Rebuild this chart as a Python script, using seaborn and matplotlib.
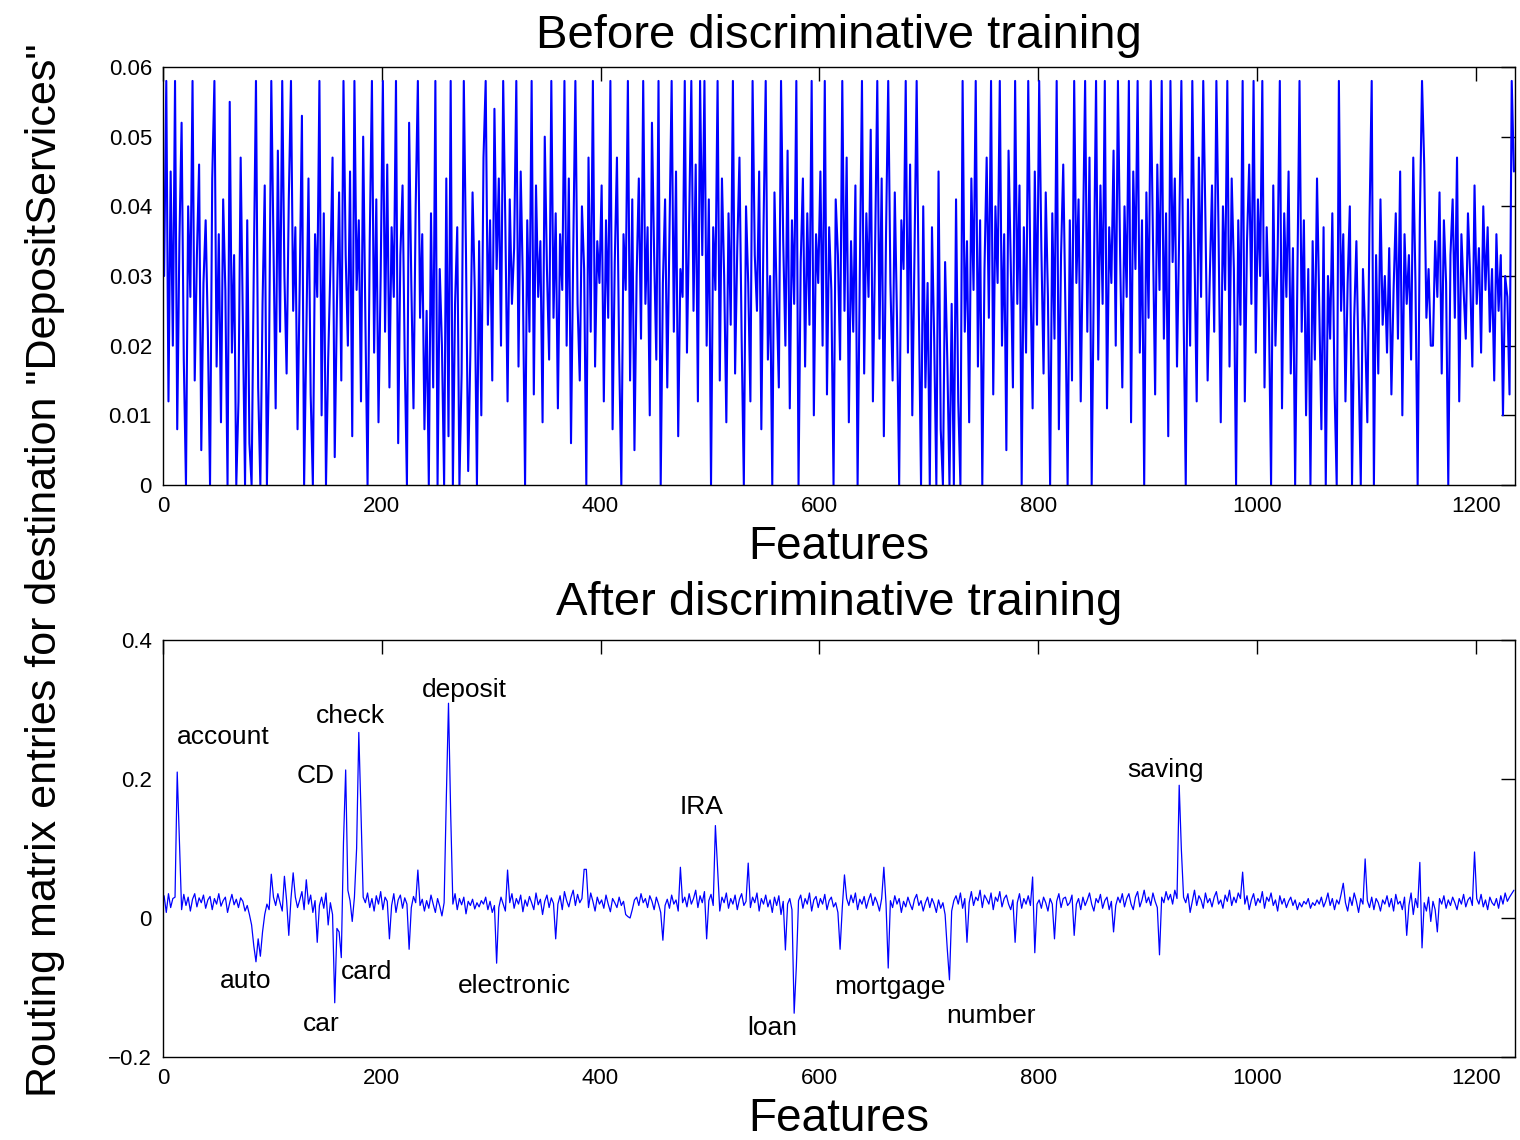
import numpy as np
import pandas as pd
import matplotlib
matplotlib.use("Agg")
import matplotlib.pyplot as plt
from matplotlib import font_manager
import seaborn as sns

# ---------------- data (values in units of 0.001) ----------------
before_vals = [
    30, 58, 12, 45, 20, 58, 8, 35, 52, 18, 0, 40, 27, 58, 15, 33, 46, 5, 29, 38,
    22, 0, 44, 58, 17, 36, 9, 41, 28, 0, 55, 19, 33, 0, 12, 47, 24, 0, 38, 6,
    0, 31, 58, 14, 0, 26, 43, 0, 19, 58, 35, 11, 48, 22, 58, 30, 16, 41, 58, 25,
    37, 8, 29, 53, 0, 21, 44, 13, 0, 36, 27, 58, 10, 39, 0, 18, 31, 47, 4, 26,
    42, 15, 58, 33, 20, 45, 7, 58, 28, 38, 12, 50, 24, 0, 35, 58, 19, 41, 9, 30,
    58, 22, 46, 14, 37, 27, 58, 6, 33, 43, 18, 0, 52, 29, 11, 40, 58, 24, 36, 8,
    25, 0, 39, 14, 58, 0, 31, 20, 0, 44, 7, 58, 0, 26, 37, 0, 16, 58, 33, 2,
    19, 42, 28, 0, 35, 10, 47, 58, 23, 38, 15, 54, 31, 44, 20, 58, 37, 12, 41, 26,
    34, 58, 17, 45, 29, 0, 38, 22, 58, 13, 43, 27, 35, 9, 50, 31, 18, 58, 24, 39,
    11, 36, 28, 58, 20, 44, 6, 33, 58, 26, 15, 40, 31, 0, 47, 22, 58, 17, 35, 29,
    43, 12, 38, 24, 58, 8, 32, 47, 19, 0, 36, 28, 58, 15, 41, 5, 30, 44, 21, 58,
    26, 37, 10, 52, 33, 18, 58, 0, 29, 41, 14, 36, 58, 22, 45, 7, 31, 27, 58, 19,
    38, 58, 25, 46, 12, 58, 33, 58, 20, 41, 0, 37, 28, 58, 15, 44, 30, 9, 39, 23,
    58, 16, 34, 47, 21, 0, 40, 29, 12, 58, 33, 25, 45, 8, 37, 58, 18, 30, 0, 42,
    27, 14, 58, 35, 20, 48, 11, 38, 26, 58, 0, 32, 44, 17, 39, 23, 58, 10, 36, 29,
    45, 20, 58, 13, 37, 28, 0, 41, 33, 18, 58, 25, 47, 9, 35, 22, 43, 0, 30, 58,
    16, 39, 27, 51, 12, 34, 58, 21, 44, 7, 36, 58, 29, 15, 42, 24, 0, 38, 31, 58,
    19, 46, 10, 33, 58, 25, 0, 40, 14, 29, 0, 37, 21, 0, 45, 8, 0, 32, 18, 0,
    26, 0, 41, 12, 0, 58, 22, 35, 9, 44, 28, 58, 17, 38, 0, 31, 47, 24, 58, 13,
    40, 29, 58, 20, 36, 5, 48, 32, 14, 58, 26, 43, 0, 37, 19, 58, 30, 11, 45, 23,
    58, 34, 16, 42, 27, 0, 39, 21, 58, 8, 33, 46, 25, 0, 38, 15, 58, 29, 41, 12,
    35, 58, 22, 47, 0, 30, 58, 18, 43, 26, 58, 11, 37, 29, 48, 20, 58, 33, 14, 40,
    27, 58, 9, 45, 31, 58, 19, 38, 0, 42, 24, 58, 35, 13, 46, 28, 58, 21, 39, 7,
    58, 32, 44, 17, 36, 58, 25, 0, 41, 20, 58, 33, 12, 47, 27, 58, 38, 15, 30, 43,
    22, 58, 36, 9, 40, 28, 58, 17, 44, 31, 0, 38, 23, 58, 12, 35, 46, 26, 58, 19,
    41, 30, 58, 14, 37, 25, 0, 43, 20, 33, 58, 11, 39, 27, 45, 16, 34, 0, 29, 58,
    22, 38, 10, 31, 0, 35, 18, 44, 26, 8, 37, 0, 30, 21, 39, 14, 0, 58, 25, 36,
    12, 29, 40, 0, 24, 35, 17, 0, 31, 22, 9, 38, 58, 0, 33, 16, 41, 23, 30, 19,
    34, 13, 28, 39, 21, 45, 10, 36, 26, 33, 18, 47, 29, 0, 38, 58, 46, 24, 31, 20,
    20, 35, 27, 42, 16, 38, 29, 0, 33, 41, 24, 47, 12, 36, 28, 21, 39, 30, 17, 43,
    26, 34, 19, 40, 28, 37, 22, 31, 15, 36, 25, 33, 10, 30, 27, 13, 58, 45,
]

after_vals = [
    32, 8, 35, 15, 28, 30, 210, 110, 12, 34, 18, 30, 10, 27, 35, 16, 29, 22, 33, 14,
    26, 31, 12, 28, 20, 35, 17, 25, 30, 8, 22, 34, 19, 27, 15, 29, 24, 10, 18, 5,
    -10, -40, -63, -30, -55, -20, 5, 20, 12, 63, 30, 18, 35, 22, 10, 60, 25, -25, 28, 65,
    30, 15, 26, 38, 12, 55, 20, 33, 8, 25, -35, 18, 30, 14, 36, -10, 22, 5, -122, -15,
    -20, -57, 109, 213, 40, 25, -5, 30, 100, 267, 152, 30, 22, 36, 15, 28, 10, 32, 20, 38,
    12, 30, 24, -30, 18, 35, 8, 26, 33, 14, 29, 20, -45, 15, 31, 22, 69, 18, 27, 10,
    25, 14, 33, 20, 8, 28, 17, 3, 22, 172, 309, 150, 20, 35, 12, 28, 19, 30, 6, 24,
    18, 27, 13, 22, 16, 25, 20, 30, 12, 24, 8, 18, -65, 15, 30, 20, 10, 69, 22, 35,
    14, 28, 20, 33, 9, 26, 17, 31, 22, 12, 36, 19, 27, 5, 24, 33, 15, 29, 21, -30,
    20, 32, 12, 38, 25, 16, 30, 40, 18, 34, 22, 28, 70, 70, 15, 36, 24, 10, 30, 20,
    26, 14, 33, 20, 9, 28, 22, 15, 30, 18, 24, 5, 2, 0, 12, 26, 30, 18, 35, 22,
    28, 15, 32, 24, 12, 30, 20, 8, -32, 18, 27, 14, 33, 20, 26, 10, 73, 22, 30, 16,
    35, 20, 28, 40, 15, 32, 22, 38, -30, 25, 34, 18, 133, 70, 10, 30, 22, 36, 14, 28,
    20, 33, 12, 27, 35, 18, 24, 79, 15, 30, 22, 36, 10, 28, 20, 33, 16, 26, 8, 30,
    18, 32, 5, 24, -46, 20, 28, 12, -137, -70, 25, 33, 14, 28, 20, 36, 10, 26, 31, 15,
    28, 20, 34, 12, 25, 30, 16, 22, 8, -45, 15, 62, 28, 18, 33, 22, 36, 12, 27, 20,
    31, 14, 26, 35, 18, 30, 22, 10, 28, 73, 20, -72, 25, 15, 32, 20, 28, 8, 24, 16,
    30, 20, 12, 27, 34, 18, 25, 10, 22, 30, 15, 28, 20, 8, 26, 14, 22, 5, -45, -89,
    10, 25, 32, 20, 36, 14, 28, -35, 22, 38, 18, 30, 25, 40, 15, 33, 27, 20, 36, 12,
    30, 24, 38, 16, 28, 33, 20, 12, 26, -35, 22, 35, 14, 28, 20, 32, 18, 59, -50, 20,
    26, 14, 30, 22, 10, 28, 20, -30, 24, 35, 15, 28, 30, 18, 22, 33, -25, 20, 28, 12,
    30, 18, 26, 36, 20, 10, 28, 22, 34, 14, 25, 30, 12, 24, -20, 18, 30, 22, 35, 16,
    28, 35, 20, 12, 30, 38, 16, 26, 40, 22, 30, 18, 36, 24, 15, -53, 30, 22, 38, 26,
    34, 20, 40, 28, 191, 98, 30, 22, 35, 8, 24, 40, 18, 32, 26, 14, 36, 22, 28, 16,
    30, 38, 20, 26, 14, 33, 24, 40, 18, 30, 22, 36, 28, 66, 20, 32, 12, 26, 35, 18,
    28, 22, 38, 14, 30, 24, 36, 18, 26, 10, 32, 20, 28, 15, 24, 30, 18, 26, 12, 22,
    16, 24, 20, 28, 14, 22, 18, 26, 20, 30, 16, 24, 36, 18, 28, 12, 26, 20, 34, 50,
    22, 10, 30, 18, 36, 24, 8, 28, 20, 85, 25, 15, 30, 12, 28, 22, 10, 26, 20, 32,
    16, 28, 10, 34, 20, 24, 12, 30, -25, 18, 36, 5, 28, 15, 80, -43, 22, 10, 30, -5,
    24, 12, -20, 28, 20, 32, 14, 26, 18, 30, 22, 12, 28, 20, 34, 16, 26, 30, 18, 95,
    28, 20, 34, 16, 26, 12, 30, 22, 18, 28, 14, 32, 20, 36, 24, 30, 35, 40,
]

feature_idx = [2 * i + 1 for i in range(len(before_vals))]

word_labels = ["account", "auto", "car", "card", "CD", "check", "deposit",
               "electronic", "IRA", "loan", "mortgage", "number", "saving"]
# label anchor (feature, value) for the word annotations
word_x = [12.8, 52, 128, 163, 122.5, 140, 237, 270, 472.5, 534, 614, 715.6, 882]
word_y = [0.26, -0.09, -0.152, -0.078, 0.204, 0.29, 0.328, -0.098, 0.16, -0.158, -0.099, -0.141, 0.213]

top_yticks = [0, 0.01, 0.02, 0.03, 0.04, 0.05, 0.06]
top_yticklabels = ["0", "0.01", "0.02", "0.03", "0.04", "0.05", "0.06"]
bot_yticks = [-0.2, 0, 0.2, 0.4]
bot_yticklabels = ["\u22120.2", "0", "0.2", "0.4"]
xticks = [0, 200, 400, 600, 800, 1000, 1200]

df = pd.DataFrame({
    "feature": feature_idx,
    "before": np.array(before_vals) * 0.001,
    "after": np.array(after_vals) * 0.001,
})

# ---------------- style ----------------
sns.set_style("white")
avail = {f.name for f in font_manager.fontManager.ttflist}
main_font = "Liberation Sans" if "Liberation Sans" in avail else "DejaVu Sans"
plt.rcParams["font.family"] = [main_font, "DejaVu Sans"]
plt.rcParams["axes.unicode_minus"] = True
plt.rcParams["text.color"] = "black"
plt.rcParams["axes.labelcolor"] = "black"
plt.rcParams["xtick.color"] = "black"
plt.rcParams["ytick.color"] = "black"

fig = plt.figure(figsize=(15.2, 11.4), dpi=100)
ax1 = fig.add_axes([163 / 1520, 1 - 485 / 1140, (1515 - 163) / 1520, (485 - 67) / 1140])
ax2 = fig.add_axes([163 / 1520, 1 - 1057 / 1140, (1515 - 163) / 1520, (1057 - 640) / 1140])

blue = "#0000ff"
sns.lineplot(data=df, x="feature", y="before", ax=ax1, color=blue, linewidth=1.5,
             estimator=None, sort=False)
sns.lineplot(data=df, x="feature", y="after", ax=ax2, color=blue, linewidth=0.9,
             estimator=None, sort=False)

for ax in (ax1, ax2):
    ax.set_xlim(0, 1236)
    ax.set_xticks(xticks)
    ax.set_xticklabels([str(t) for t in xticks])
    ax.tick_params(axis="both", which="both", direction="in", top=True, right=True,
                   length=10, width=1.0, labelsize=16, pad=8, colors="black")
    for s in ax.spines.values():
        s.set_visible(True)
        s.set_color("black")
        s.set_linewidth(1.0)
    ax.set_xlabel("Features", fontsize=33, labelpad=6, color="black")
    ax.set_ylabel("")

ax1.set_ylim(0, 0.06)
ax1.set_yticks(top_yticks)
ax1.set_yticklabels(top_yticklabels)
ax1.set_title("Before discriminative training", fontsize=34, pad=14, color="black")

ax2.set_ylim(-0.2, 0.4)
ax2.set_yticks(bot_yticks)
ax2.set_yticklabels(bot_yticklabels)
ax2.set_title("After discriminative training", fontsize=34, pad=18, color="black")

for lab, x, y in zip(word_labels, word_x, word_y):
    ax2.text(x, y, lab, fontsize=19, ha="left", va="center", color="black")

ylab = 'Routing matrix entries for destination "DepositServices"'
fig.text(45 / 1520, 1 - 570 / 1140, ylab, rotation=90, ha="center", va="center",
         fontsize=31, color="black")

fig.savefig("out.png", dpi=100)
